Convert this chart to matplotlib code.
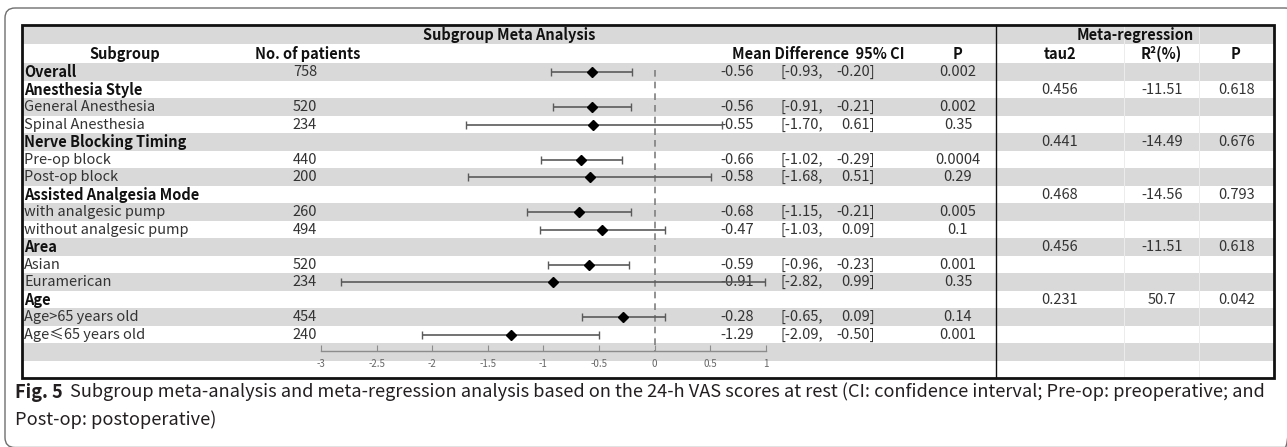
import matplotlib
matplotlib.use("Agg")
import matplotlib.pyplot as plt
from matplotlib.patches import Rectangle, FancyBboxPatch
from matplotlib.ticker import FixedLocator, FuncFormatter

# ---------------- data ----------------
subgroups = ["Overall", "Anesthesia Style", "General Anesthesia", "Spinal Anesthesia",
             "Nerve Blocking Timing", "Pre-op block", "Post-op block",
             "Assisted Analgesia Mode", "with analgesic pump", "without analgesic pump",
             "Area", "Asian", "Euramerican", "Age", "Age>65 years old", "Age≤65 years old"]
bold_rows = [True, True, False, False, True, False, False, True, False, False,
             True, False, False, True, False, False]
patients = [758, None, 520, 234, None, 440, 200, None, 260, 494, None, 520, 234, None, 454, 240]
mean_diff = [-0.56, None, -0.56, -0.55, None, -0.66, -0.58, None, -0.68, -0.47,
             None, -0.59, -0.91, None, -0.28, -1.29]
ci_low = [-0.93, None, -0.91, -1.70, None, -1.02, -1.68, None, -1.15, -1.03,
          None, -0.96, -2.82, None, -0.65, -2.09]
ci_high = [-0.20, None, -0.21, 0.61, None, -0.29, 0.51, None, -0.21, 0.09,
           None, -0.23, 0.99, None, 0.09, -0.50]
p_values = [0.002, None, 0.002, 0.35, None, 0.0004, 0.29, None, 0.005, 0.1,
            None, 0.001, 0.35, None, 0.14, 0.001]

reg_groups = ["Anesthesia Style", "Nerve Blocking Timing", "Assisted Analgesia Mode", "Area", "Age"]
reg_tau2 = [0.456, 0.441, 0.468, 0.456, 0.231]
reg_r2 = [-11.51, -14.49, -14.56, -11.51, 50.7]
reg_p = [0.618, 0.676, 0.793, 0.618, 0.042]

x_ticks = [-3, -2.5, -2, -1.5, -1, -0.5, 0, 0.5, 1]

caption_bold = "Fig. 5"
caption_line1 = ("Subgroup meta-analysis and meta-regression analysis based on the 24-h VAS scores "
                 "at rest (CI: confidence interval; Pre-op: preoperative; and")
caption_line2 = "Post-op: postoperative)"

# ---------------- layout (pixels) ----------------
W, H = 1287, 447
TBL_L, TBL_R, TBL_T = 22, 1274, 25
DIV_X = 996
TITLE_B = 43.5
HEAD_B = 63.3
ROW_H = 17.5
N_ROWS = len(subgroups) + 2          # data rows + axis row + blank row
TBL_B = HEAD_B + N_ROWS * ROW_H
GRAY = "#d9d9d9"
TXT = "#333333"
FONT = ["Noto Sans CJK SC", "DejaVu Sans"]
FS = 10.5

fig = plt.figure(figsize=(W / 100, H / 100), dpi=100)
ax0 = fig.add_axes([0, 0, 1, 1])
ax0.set_xlim(0, W)
ax0.set_ylim(H, 0)
ax0.axis("off")

# outer rounded frame
ax0.add_patch(FancyBboxPatch((5, 8), W + 8 - 5, H - 8 + 0.5,
                             boxstyle="round,pad=0,rounding_size=10",
                             fc="none", ec="#6e6e6e", lw=1.0))

# row bands
ax0.add_patch(Rectangle((TBL_L, TBL_T), TBL_R - TBL_L, TITLE_B - TBL_T, fc=GRAY, ec="none"))
for i in range(N_ROWS):
    if i % 2 == 0:
        y0 = HEAD_B + i * ROW_H
        ax0.add_patch(Rectangle((TBL_L, y0), TBL_R - TBL_L, ROW_H, fc=GRAY, ec="none"))

# faint cell separators in the regression block
for xs in (1124, 1199):
    ax0.plot([xs, xs], [TBL_T, TBL_B], color="#ececec", lw=0.7, zorder=1)

# table frame and divider
ax0.add_patch(Rectangle((TBL_L, TBL_T), TBL_R - TBL_L, TBL_B - TBL_T, fc="none", ec="#111111", lw=2.0,
                        zorder=5))
ax0.plot([DIV_X, DIV_X], [TBL_T, TBL_B], color="#111111", lw=1.0, zorder=5)


def row_y(i):
    return HEAD_B + (i + 0.5) * ROW_H


def txt(x, y, s, ha="left", bold=False, color=TXT, size=FS):
    ax0.text(x, y, s, ha=ha, va="center", family=FONT, fontsize=size,
             fontweight="bold" if bold else "normal", color="#111111" if bold else color, zorder=3)


# titles and headers
title_y = (TBL_T + TITLE_B) / 2 + 0.5
head_y = (TITLE_B + HEAD_B) / 2 + 0.5
txt((TBL_L + DIV_X) / 2, title_y, "Subgroup Meta Analysis", ha="center", bold=True)
txt((DIV_X + TBL_R) / 2, title_y, "Meta-regression", ha="center", bold=True)
txt(125, head_y, "Subgroup", ha="center", bold=True)
txt(308, head_y, "No. of patients", ha="center", bold=True)
txt(818, head_y, "Mean Difference  95% CI", ha="center", bold=True)
txt(958, head_y, "P", ha="center", bold=True)
txt(1060, head_y, "tau2", ha="center", bold=True)
txt(1161, head_y, "R²(%)", ha="center", bold=True)
txt(1236, head_y, "P", ha="center", bold=True)

# table body
for i, name in enumerate(subgroups):
    y = row_y(i)
    txt(24, y, name, bold=bold_rows[i])
    if patients[i] is not None:
        txt(305, y, f"{patients[i]}", ha="center")
    if mean_diff[i] is not None:
        txt(754, y, f"{mean_diff[i]:.2f}", ha="right")
        txt(781, y, f"[{ci_low[i]:.2f},", ha="left")
        txt(875, y, f"{ci_high[i]:.2f}]", ha="right")
        txt(958, y, f"{p_values[i]:g}", ha="center")
    if name in reg_groups:
        k = reg_groups.index(name)
        txt(1060, y, f"{reg_tau2[k]:g}", ha="center")
        txt(1162, y, f"{reg_r2[k]:g}", ha="center")
        txt(1237, y, f"{reg_p[k]:g}", ha="center")

# ---------------- forest plot ----------------
X_L, X_R = 321.0, 765.8           # pixel positions of -3 and 1
AX_B = 350.7                      # pixel y of the axis line
n_span = (AX_B - HEAD_B) / ROW_H
ax = fig.add_axes([X_L / W, (H - AX_B) / H, (X_R - X_L) / W, (AX_B - HEAD_B) / H])
ax.patch.set_alpha(0)
ax.set_xlim(x_ticks[0], x_ticks[-1])
ax.set_ylim(n_span, 0)
for s in ("left", "right", "top"):
    ax.spines[s].set_visible(False)
ax.spines["bottom"].set_color("#8c8c8c")
ax.spines["bottom"].set_linewidth(1.0)
ax.yaxis.set_visible(False)
ax.xaxis.set_major_locator(FixedLocator(x_ticks))
ax.xaxis.set_major_formatter(FuncFormatter(lambda v, _: f"{v:g}"))
ax.tick_params(axis="x", direction="in", length=4, width=0.8, color="#8c8c8c",
               labelsize=7, labelcolor="#666666", pad=6)
for lab in ax.get_xticklabels():
    lab.set_family(FONT)

ax.plot([0, 0], [0.4, n_span], color="#7f7f7f", lw=1.2, ls=(0, (4, 3)), zorder=1)

idx = [i for i, m in enumerate(mean_diff) if m is not None]
xs = [mean_diff[i] for i in idx]
ys = [i + 0.5 for i in idx]
err = [[mean_diff[i] - ci_low[i] for i in idx], [ci_high[i] - mean_diff[i] for i in idx]]
ax.errorbar(xs, ys, xerr=err, fmt="none", ecolor="#5a5a5a", elinewidth=1.2,
            capsize=2.6, capthick=1.0, zorder=2)
ax.plot(xs, ys, ls="none", marker="D", ms=5.5, mfc="black", mec="black", zorder=3)

# ---------------- caption ----------------
cap_y1, cap_y2 = 392, 420
CAP_FONT = ["Noto Sans CJK SC", "DejaVu Sans"]
fb = ax0.text(15, cap_y1, caption_bold, ha="left", va="center", family=CAP_FONT,
              fontweight="bold", fontsize=11, color="#231f20")
c1 = ax0.text(61, cap_y1, caption_line1, ha="left", va="center", family=CAP_FONT,
              fontsize=11, color="#231f20")
c2 = ax0.text(15, cap_y2, caption_line2, ha="left", va="center", family=CAP_FONT,
              fontsize=11, color="#231f20")
fig.canvas.draw()
r = fig.canvas.get_renderer()
fb_w = fb.get_window_extent(r).width
w1 = c1.get_window_extent(r).width
size = 11 * (1262 - 15) / (w1 + fb_w + 8)
for t in (fb, c1, c2):
    t.set_fontsize(size)
fig.canvas.draw()
fb_w = fb.get_window_extent(r).width
c1.set_x(15 + fb_w + 7)

fig.savefig("out.png", dpi=100)
